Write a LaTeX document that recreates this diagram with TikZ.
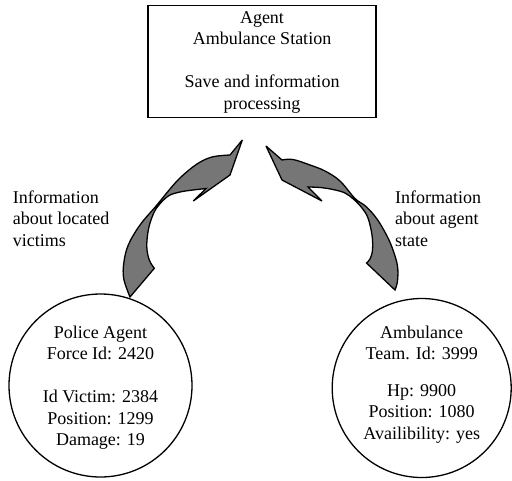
\documentclass[tikz,border=0pt]{standalone}
\usepackage{fontspec}
\setmainfont{Liberation Serif}
\definecolor{arrowgray}{RGB}{118,118,118}
\begin{document}
\begin{tikzpicture}[x=1pt,y=-1pt,
  every node/.style={font=\fontsize{18}{21.5}\selectfont, inner sep=0pt, align=center},
  stationbox/.style={draw, line width=1.8pt, minimum width=228pt, minimum height=112pt},
  agentcircle/.style={draw, circle, line width=1.3pt},
  infolabel/.style={align=left, anchor=west},
  bigarrow/.style={draw, fill=arrowgray, line width=1.3pt, line join=miter, miter limit=4}
]
\useasboundingbox (0,0) rectangle (512,480);

% station box
\node[stationbox] (station) at (262,61.5) {};
\node (stationtext) at (262,62) {Agent\\Ambulance Station\\[21.5pt]Save and information\\processing};

% agent circles
\node[agentcircle, minimum size=183pt] (police) at (100.5,385.5) {};
\node (policetext) at (100.5,387.5) {Police Agent\\Force Id: 2420\\[21.5pt]Id Victim: 2384\\Position: 1299\\Damage: 19};

\node[agentcircle, minimum size=179pt] (amb) at (421.7,388) {};
\node (ambtext) at (421.7,384.5) {Ambulance\\Team. Id: 3999\\[15pt]Hp: 9900\\Position: 1080\\Availibility: yes};

% labels
\node[infolabel] (leftlabel) at (12.7,218.4) {Information\\about located\\victims};
\node[infolabel] (rightlabel) at (395,218.4) {Information\\about agent\\state};

% left curved block arrow
\path[bigarrow] (130,297)
  -- plot[smooth, tension=0.6] coordinates {(130,297) (123.8,279) (123.8,263) (128.3,245) (140,225) (156.5,205.5) (170,189) (181,177) (197,164) (212,157) (230,155)}
  -- (242.3,140) -- (230,175) -- (193.3,201) -- (206,188.5)
  -- plot[smooth, tension=0.6] coordinates {(206,188.5) (193,190) (180,192) (168.3,196) (157.7,206.5) (152.5,216) (148.3,230) (146.8,247) (149.3,260) (154.3,268.3)}
  -- cycle;

% right curved block arrow
\path[bigarrow] (395,290)
  -- plot[smooth, tension=0.6] coordinates {(395,290) (397.5,281) (397.5,266) (393,250) (387,236) (377,219) (366,206.5) (355,198.5) (340,181) (325,171) (310,165) (293,159.5) (282,160)}
  -- (266,146) -- (282,180) -- (322,201) -- (308,187)
  -- plot[smooth, tension=0.6] coordinates {(308,187) (320,187.5) (333,189.5) (345,193) (354,199.6) (362,208) (368,218) (372,235) (372.5,250) (370,259) (366.5,263)}
  -- cycle;
\end{tikzpicture}
\end{document}
